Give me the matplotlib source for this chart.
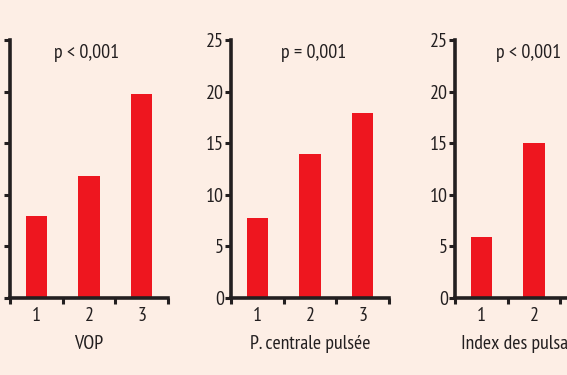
import matplotlib
matplotlib.use("Agg")
import matplotlib.pyplot as plt
from matplotlib import font_manager

names = {f.name for f in font_manager.fontManager.ttflist}
fam = [n for n in ["PT Sans Narrow", "Fira Sans Condensed", "Open Sans Condensed", "Roboto Condensed", "DejaVu Sans"] if n in names]
plt.rcParams['font.family'] = fam

categories = ["1", "2", "3"]
vop = [7.9, 11.8, 19.8]
p_centrale = [7.8, 14.0, 17.9]
index_puls = [5.9, 15.0]
titles = ["p < 0,001", "p = 0,001", "p < 0,001"]
xlabels = ["VOP", "P. centrale pulsée", "Index des pulsatilités"]
yticks = [0, 5, 10, 15, 20, 25]

bg = "#FDEEE5"
red = "#EE161F"
ink = "#231F20"
fs = 14.3

fig = plt.figure(figsize=(5.67, 3.75), dpi=100, facecolor=bg)
W, H = 567, 375
lefts = [10, 231, 455]
series = [vop, p_centrale, index_puls]
pxs = [87, 314, 529]
for i in range(3):
    l = lefts[i]
    ax = fig.add_axes([l / W, (H - 298) / H, 158 / W, 258 / H])
    ax.set_facecolor(bg)
    vals = series[i]
    xs = list(range(1, len(vals) + 1))
    ax.bar(xs, vals, width=0.4, color=red)
    ax.set_xlim(0.5, 3.5)
    ax.set_ylim(0, 25)
    for s in ["top", "right"]:
        ax.spines[s].set_visible(False)
    for s in ["left", "bottom"]:
        ax.spines[s].set_linewidth(2.6)
        ax.spines[s].set_color(ink)
        ax.spines[s].set_capstyle("projecting")
    ax.set_yticks(yticks)
    ax.set_yticklabels([str(v) for v in yticks] if i > 0 else [""] * len(yticks))
    ax.set_xticks([1, 2, 3])
    ax.set_xticklabels(categories)
    ax.set_xticks([0.5, 1.5, 2.5, 3.5], minor=True)
    ax.tick_params(axis="x", which="major", length=0, pad=6.5, labelsize=fs, labelcolor=ink)
    ax.tick_params(axis="x", which="minor", length=4.5, width=2.2, color=ink, direction="out")
    ax.tick_params(axis="y", length=4, width=2.2, color=ink, pad=1, labelsize=fs, labelcolor=ink)
    ax.set_xlabel(xlabels[i], fontsize=fs, color=ink, labelpad=7)
    ax.text((pxs[i] - l) / 158, 0.95, titles[i], transform=ax.transAxes,
            ha="center", va="center", fontsize=fs, color=ink)

fig.savefig("out.png", dpi=100, facecolor=bg)
